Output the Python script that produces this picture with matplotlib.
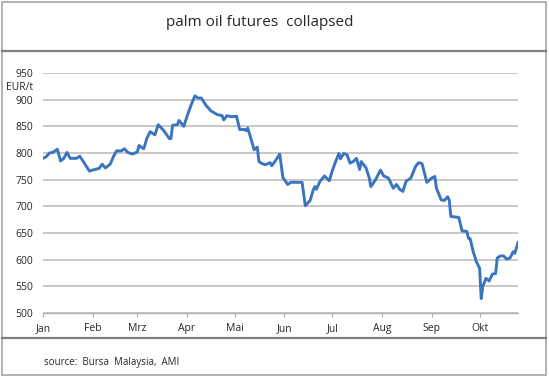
import matplotlib
matplotlib.use("Agg")
import matplotlib.pyplot as plt
from matplotlib.patches import Rectangle
from matplotlib.lines import Line2D

plt.rcParams['font.family'] = ['Open Sans', 'DejaVu Sans']

title = "palm oil futures  collapsed"
source = "source:  Bursa  Malaysia,  AMI"
unit = "EUR/t"

# day offsets from 1 January and prices (EUR/t)
days = [0, 2, 4, 6, 9, 11, 13, 15, 17, 21, 23, 25, 29, 31, 35, 37, 39, 42, 44, 46,
        49, 51, 53, 56, 59, 60, 63, 65, 67, 70, 72, 74, 76, 79, 80, 81, 84, 85, 88, 91,
        93, 95, 97, 99, 102, 105, 109, 112, 113, 115, 118, 121, 123, 126, 127, 128, 130, 132, 134, 135,
        137, 139, 142, 143, 145, 148, 150, 153, 155, 159, 162, 164, 167, 169, 170, 171, 173, 176, 179, 181,
        183, 185, 186, 188, 190, 192, 194, 196, 198, 199, 202, 204, 205, 208, 211, 213, 216, 219, 221, 223,
        225, 227, 230, 233, 235, 237, 240, 243, 245, 246, 249, 251, 253, 254, 255, 258, 260, 262, 265, 266,
        267, 269, 271, 273, 274, 275, 277, 279, 281, 283, 284, 286, 288, 290, 292, 294, 295, 297]
prices = [790, 793, 800, 801, 807, 785, 790, 801, 790, 790, 794, 785, 766, 768, 771, 779, 772, 779, 793, 804,
          804, 808, 801, 798, 802, 814, 808, 828, 840, 834, 853, 847, 840, 827, 827, 852, 853, 861, 850, 877,
          893, 907, 903, 903, 889, 879, 872, 870, 862, 870, 868, 869, 844, 844, 842, 847, 827, 806, 811, 784,
          780, 778, 782, 776, 784, 798, 754, 741, 745, 745, 745, 701, 711, 731, 737, 732, 746, 757, 748, 768,
          784, 799, 789, 799, 797, 781, 784, 790, 769, 784, 772, 753, 737, 750, 768, 757, 753, 734, 741, 732,
          728, 747, 753, 775, 782, 780, 745, 753, 756, 734, 712, 711, 718, 712, 681, 680, 679, 654, 653, 640,
          640, 615, 596, 584, 527, 550, 565, 560, 573, 574, 603, 607, 607, 601, 603, 615, 612, 632]

month_days = [0, 31, 59, 90, 120, 151, 181, 212, 243, 273]
month_labels = ["Jan", "Feb", "Mrz", "Apr", "Mai", "Jun", "Jul", "Aug", "Sep", "Okt"]
yticks = [500, 550, 600, 650, 700, 750, 800, 850, 900, 950]

W, H = 549, 376
fig = plt.figure(figsize=(W / 100, H / 100), dpi=100)

# outer frame and separators
fig.patches.append(Rectangle((1.5 / W, 1 - 374.5 / H), 544 / W, 373 / H, transform=fig.transFigure,
                             fill=False, edgecolor='#a6a6a6', linewidth=1.2))
fig.lines.append(Line2D([1.5 / W, 545.5 / W], [1 - 51 / H, 1 - 51 / H], transform=fig.transFigure,
                        color='#7f7f7f', linewidth=1.6))
fig.lines.append(Line2D([1.5 / W, 545.5 / W], [1 - 338 / H, 1 - 338 / H], transform=fig.transFigure,
                        color='#7f7f7f', linewidth=1.6))

fig.text(260 / W, 1 - 22 / H, title, ha='center', va='center', fontsize=11, color='#262626')
fig.text(44 / W, 1 - 362 / H, source, ha='left', va='center', fontsize=7, color='#262626')

ax = fig.add_axes([43 / W, 1 - 313 / H, (518 - 43) / W, (313 - 73) / H])
ax.plot(days, prices, color='#3b74bf', linewidth=2.1, solid_joinstyle='round')
ax.set_xlim(0, 297)
ax.set_ylim(500, 950)
ax.set_yticks(yticks)
ax.set_yticklabels([str(v) for v in yticks])
ax.set_xticks(month_days)
ax.set_xticklabels(month_labels)
ax.grid(axis='y', color='#c4c4c4', linewidth=1.3)
ax.set_axisbelow(True)
for s in ['top', 'right', 'left']:
    ax.spines[s].set_visible(False)
ax.spines['bottom'].set_color('#b0b0b0')
ax.spines['bottom'].set_linewidth(1.0)
ax.tick_params(axis='y', length=0, pad=7, labelsize=7.5, labelcolor='#262626')
ax.tick_params(axis='x', length=3, width=0.8, color='#b0b0b0', pad=4, labelsize=7.5, labelcolor='#262626')
ax.text(-10 / (518 - 43) * 297, 922, unit, ha='right', va='center', fontsize=7.5, color='#262626',
        transform=ax.transData)

fig.savefig('out.png', dpi=100)
